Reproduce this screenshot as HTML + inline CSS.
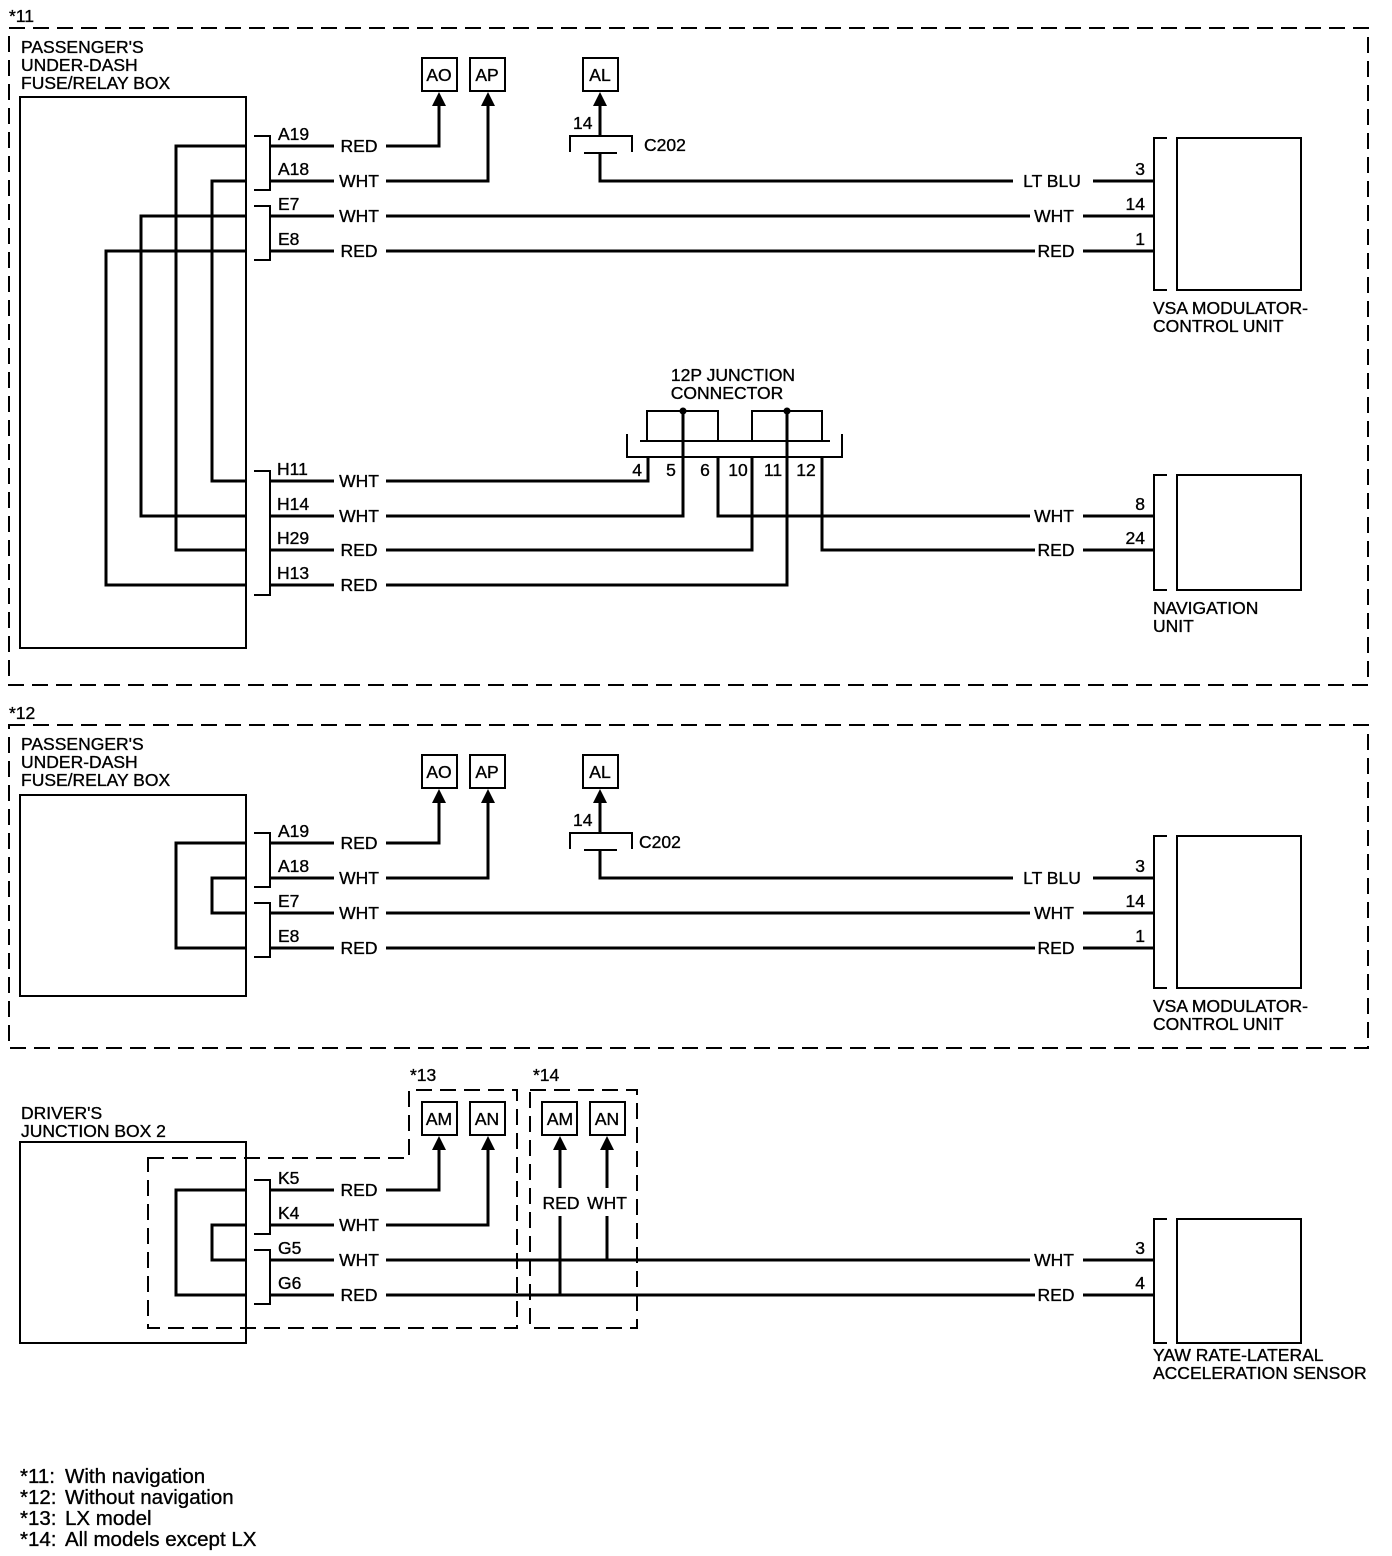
<!DOCTYPE html>
<html><head><style>
html,body{margin:0;padding:0;background:#fff;}
svg{display:block;}
text{font-family:"Liberation Sans",sans-serif;font-size:17.5px;fill:#000;stroke:#000;stroke-width:0.35px;}
.w{stroke:#000;stroke-width:3;fill:none;}
.t{stroke:#000;stroke-width:2;fill:none;}
.d{stroke:#000;stroke-width:2;fill:none;stroke-dasharray:16 8;}
.m{text-anchor:middle;}
.r{text-anchor:end;}
.f{font-size:20.5px;}
</style></head><body>
<svg width="1392" height="1556" viewBox="0 0 1392 1556" xmlns="http://www.w3.org/2000/svg">

<!-- ===== SECTION 1 ===== -->
<text x="9" y="22">*11</text>
<rect class="d" x="9" y="28" width="1359" height="657"/>
<text x="21" y="53">PASSENGER'S</text>
<text x="21" y="71">UNDER-DASH</text>
<text x="21" y="89">FUSE/RELAY BOX</text>
<rect class="t" x="20" y="97" width="226" height="551"/>
<path class="t" d="M254 136H270V190H254 M254 206H270V260H254 M254 471H270V595H254"/>
<path class="w" d="M246 146H176V550H246 M246 181H212V481H246 M246 216H141V516H246 M246 251H106V585H246"/>
<text x="278" y="140">A19</text><text x="278" y="175">A18</text><text x="278" y="210">E7</text><text x="278" y="245">E8</text>
<text x="277" y="475">H11</text><text x="277" y="510">H14</text><text x="277" y="544">H29</text><text x="277" y="579">H13</text>
<path class="w" d="M270 146H334 M270 181H334 M270 216H334 M270 251H334 M270 481H334 M270 516H334 M270 550H334 M270 585H334"/>
<text class="m" x="359" y="152">RED</text><text class="m" x="359" y="187">WHT</text><text class="m" x="359" y="222">WHT</text><text class="m" x="359" y="257">RED</text>
<text class="m" x="359" y="487">WHT</text><text class="m" x="359" y="522">WHT</text><text class="m" x="359" y="556">RED</text><text class="m" x="359" y="591">RED</text>
<rect class="t" x="422" y="58" width="35" height="33"/><text class="m" x="439" y="81">AO</text>
<rect class="t" x="470" y="58" width="35" height="33"/><text class="m" x="487" y="81">AP</text>
<rect class="t" x="583" y="58" width="35" height="33"/><text class="m" x="600" y="81">AL</text>
<path class="w" d="M386 146H439V104 M386 181H488V104"/>
<path d="M432 106L439 92L446 106Z M481 106L488 92L495 106Z M593 106L600 92L607 106Z"/>
<path class="w" d="M600 104V136"/>
<path class="t" d="M570 152V136H632V152 M584 153H617"/>
<text x="573" y="129">14</text><text x="644" y="151">C202</text>
<path class="w" d="M600 153V181H1013 M1093 181H1153 M386 216H1030 M1083 216H1153 M386 251H1035 M1083 251H1153"/>
<text class="m" x="1052" y="187">LT BLU</text><text class="m" x="1054" y="222">WHT</text><text class="m" x="1056" y="257">RED</text>
<text class="r" x="1145" y="175">3</text><text class="r" x="1145" y="210">14</text><text class="r" x="1145" y="245">1</text>
<path class="t" d="M1167 138H1154V290H1167"/>
<rect class="t" x="1177" y="138" width="124" height="152"/>
<text x="1153" y="314">VSA MODULATOR-</text><text x="1153" y="332">CONTROL UNIT</text>
<text class="m" x="733" y="381">12P JUNCTION</text><text class="m" x="727" y="399">CONNECTOR</text>
<path class="t" d="M627 434V457H842V434 M640 441H830 M647 441V411H718V441 M752 441V411H822V441"/>
<circle cx="683" cy="411" r="3.5"/><circle cx="787" cy="411" r="3.5"/>
<text class="r" x="642" y="476">4</text><text class="m" x="671" y="476">5</text><text class="m" x="705" y="476">6</text>
<text class="m" x="738" y="476">10</text><text class="m" x="773" y="476">11</text><text class="m" x="806" y="476">12</text>
<path class="w" d="M386 481H648V457 M386 516H683V411 M386 550H752V457 M386 585H787V411"/>
<path class="w" d="M718 457V516H1030 M1083 516H1153 M822 457V550H1035 M1083 550H1153"/>
<text class="m" x="1054" y="522">WHT</text><text class="m" x="1056" y="556">RED</text>
<text class="r" x="1145" y="510">8</text><text class="r" x="1145" y="544">24</text>
<path class="t" d="M1167 475H1154V590H1167"/>
<rect class="t" x="1177" y="475" width="124" height="115"/>
<text x="1153" y="614">NAVIGATION</text><text x="1153" y="632">UNIT</text>

<!-- ===== SECTION 2 ===== -->
<text x="9" y="719">*12</text>
<rect class="d" x="9" y="725" width="1359" height="323"/>
<text x="21" y="750">PASSENGER'S</text>
<text x="21" y="768">UNDER-DASH</text>
<text x="21" y="786">FUSE/RELAY BOX</text>
<rect class="t" x="20" y="795" width="226" height="201"/>
<path class="t" d="M254 833H270V887H254 M254 903H270V957H254"/>
<path class="w" d="M246 843H176V948H246 M246 878H212V913H246"/>
<text x="278" y="837">A19</text><text x="278" y="872">A18</text><text x="278" y="907">E7</text><text x="278" y="942">E8</text>
<path class="w" d="M270 843H334 M270 878H334 M270 913H334 M270 948H334"/>
<text class="m" x="359" y="849">RED</text><text class="m" x="359" y="884">WHT</text><text class="m" x="359" y="919">WHT</text><text class="m" x="359" y="954">RED</text>
<rect class="t" x="422" y="755" width="35" height="33"/><text class="m" x="439" y="778">AO</text>
<rect class="t" x="470" y="755" width="35" height="33"/><text class="m" x="487" y="778">AP</text>
<rect class="t" x="583" y="755" width="35" height="33"/><text class="m" x="600" y="778">AL</text>
<path class="w" d="M386 843H439V801 M386 878H488V801"/>
<path d="M432 803L439 789L446 803Z M481 803L488 789L495 803Z M593 803L600 789L607 803Z"/>
<path class="w" d="M600 801V833"/>
<path class="t" d="M570 849V833H632V849 M584 850H617"/>
<text x="573" y="826">14</text><text x="639" y="848">C202</text>
<path class="w" d="M600 850V878H1013 M1093 878H1153 M386 913H1030 M1083 913H1153 M386 948H1035 M1083 948H1153"/>
<text class="m" x="1052" y="884">LT BLU</text><text class="m" x="1054" y="919">WHT</text><text class="m" x="1056" y="954">RED</text>
<text class="r" x="1145" y="872">3</text><text class="r" x="1145" y="907">14</text><text class="r" x="1145" y="942">1</text>
<path class="t" d="M1167 836H1154V988H1167"/>
<rect class="t" x="1177" y="836" width="124" height="152"/>
<text x="1153" y="1012">VSA MODULATOR-</text><text x="1153" y="1030">CONTROL UNIT</text>

<!-- ===== SECTION 3 ===== -->
<text x="21" y="1119">DRIVER'S</text>
<text x="21" y="1137">JUNCTION BOX 2</text>
<rect class="t" x="20" y="1142" width="226" height="201"/>
<path class="d" d="M148 1158H409V1090H517V1328H148Z"/>
<rect class="d" x="530" y="1090" width="107" height="238"/>
<text x="410" y="1081">*13</text><text x="533" y="1081">*14</text>
<path class="t" d="M254 1180H270V1234H254 M254 1250H270V1304H254"/>
<path class="w" d="M246 1190H176V1295H246 M246 1225H212V1260H246"/>
<text x="278" y="1184">K5</text><text x="278" y="1219">K4</text><text x="278" y="1254">G5</text><text x="278" y="1289">G6</text>
<path class="w" d="M270 1190H334 M270 1225H334 M270 1260H334 M270 1295H334"/>
<text class="m" x="359" y="1196">RED</text><text class="m" x="359" y="1231">WHT</text><text class="m" x="359" y="1266">WHT</text><text class="m" x="359" y="1301">RED</text>
<rect class="t" x="422" y="1102" width="35" height="33"/><text class="m" x="439" y="1125">AM</text>
<rect class="t" x="470" y="1102" width="35" height="33"/><text class="m" x="487" y="1125">AN</text>
<rect class="t" x="542" y="1102" width="35" height="33"/><text class="m" x="560" y="1125">AM</text>
<rect class="t" x="590" y="1102" width="35" height="33"/><text class="m" x="607" y="1125">AN</text>
<path class="w" d="M386 1190H439V1148 M386 1225H488V1148 M560 1148V1188 M607 1148V1188 M560 1216V1295 M607 1216V1260"/>
<path d="M432 1150L439 1136L446 1150Z M481 1150L488 1136L495 1150Z M553 1150L560 1136L567 1150Z M600 1150L607 1136L614 1150Z"/>
<text class="m" x="561" y="1209">RED</text><text class="m" x="607" y="1209">WHT</text>
<path class="w" d="M386 1260H1030 M1083 1260H1153 M386 1295H1035 M1083 1295H1153"/>
<text class="m" x="1054" y="1266">WHT</text><text class="m" x="1056" y="1301">RED</text>
<text class="r" x="1145" y="1254">3</text><text class="r" x="1145" y="1289">4</text>
<path class="t" d="M1167 1219H1154V1343H1167"/>
<rect class="t" x="1177" y="1219" width="124" height="124"/>
<text x="1153" y="1361">YAW RATE-LATERAL</text><text x="1153" y="1379">ACCELERATION SENSOR</text>

<!-- footnotes -->
<text class="f" x="20" y="1483">*11:</text><text class="f" x="65" y="1483">With navigation</text>
<text class="f" x="20" y="1504">*12:</text><text class="f" x="65" y="1504">Without navigation</text>
<text class="f" x="20" y="1525">*13:</text><text class="f" x="65" y="1525">LX model</text>
<text class="f" x="20" y="1546">*14:</text><text class="f" x="65" y="1546">All models except LX</text>
</svg>
</body></html>
